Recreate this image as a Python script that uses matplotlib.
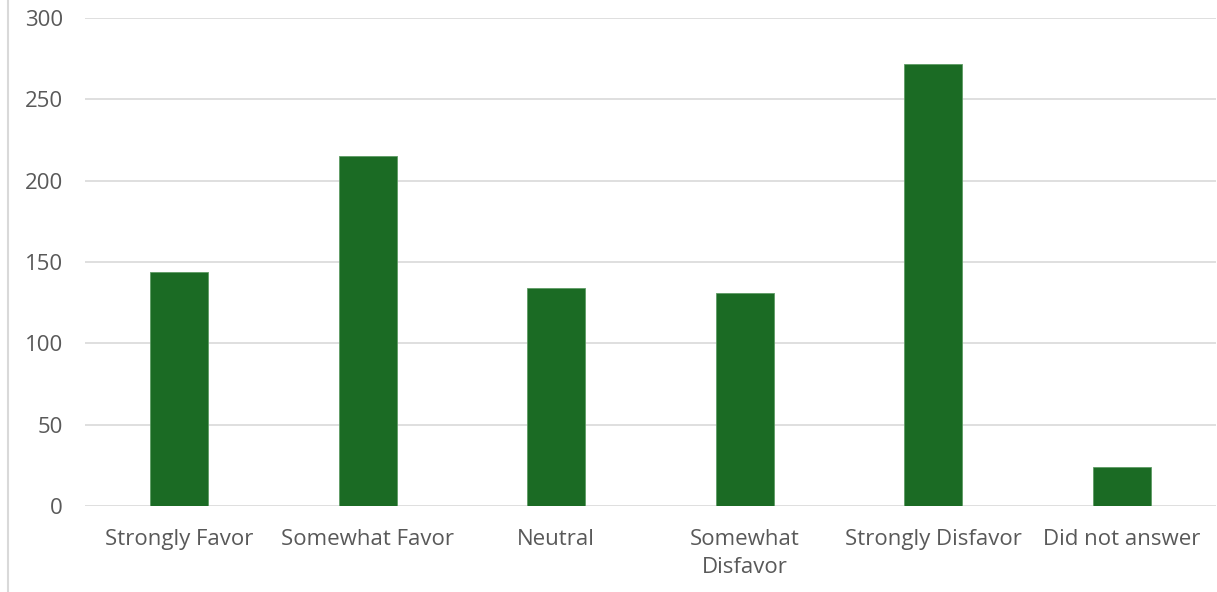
import matplotlib
matplotlib.use("Agg")
import matplotlib.pyplot as plt
from matplotlib.lines import Line2D

categories = ["Strongly Favor", "Somewhat Favor", "Neutral",
              "Somewhat\nDisfavor", "Strongly Disfavor", "Did not answer"]
counts = [144, 215, 134, 131, 272, 24]
y_ticks = [0, 50, 100, 150, 200, 250, 300]

plt.rcParams["font.family"] = ["Open Sans", "DejaVu Sans"]
text_color = "#595959"

fig = plt.figure(figsize=(12.17, 5.92), dpi=100)
ax = fig.add_axes([85 / 1217, 1 - 506 / 592, 1131 / 1217, 488 / 592])

x = range(len(categories))
ax.bar(x, counts, width=0.31, color="#1b6b24", edgecolor="#5e9b64", linewidth=0.6, zorder=3)

ax.set_xlim(-0.5, len(categories) - 0.5)
ax.set_ylim(0, 300)
ax.set_yticks(y_ticks)
ax.set_xticks(list(x))
ax.set_xticklabels(categories, fontsize=16, color=text_color, linespacing=1.45)
ax.tick_params(axis="y", labelsize=16, labelcolor=text_color, length=0, pad=16)
ax.tick_params(axis="x", length=0, pad=16.5)
ax.grid(axis="y", color="#d9d9d9", linewidth=1.2, zorder=0)
for s in ax.spines.values():
    s.set_visible(False)

# chart frame edge on the left
fig.add_artist(Line2D([7.5 / 1217, 7.5 / 1217], [0, 1], color="#d9d9d9", linewidth=1.5,
                      transform=fig.transFigure))

fig.savefig("out.png", dpi=100)
